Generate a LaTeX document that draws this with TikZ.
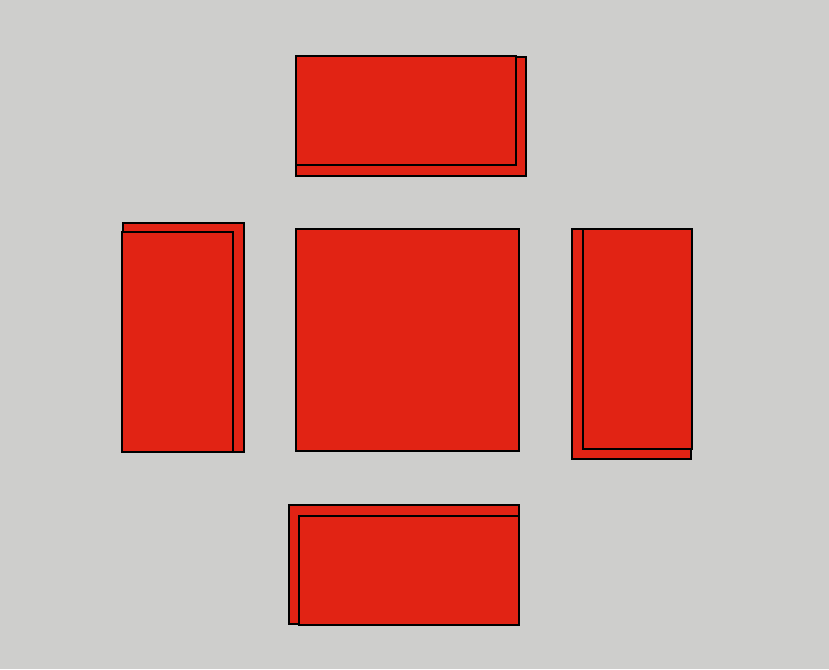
\documentclass[tikz,border=0pt]{standalone}
\definecolor{bg}{RGB}{206,206,204}
\definecolor{cushion}{RGB}{225,35,20}
\begin{document}
\begin{tikzpicture}[x=1pt,y=-1pt,
  piece/.style={fill=cushion,draw=black,line width=1.3pt,line join=miter}]
\fill[bg] (0,0) rectangle (829,669);
\useasboundingbox (0,0) rectangle (829,669);
% top sofa
\draw[piece] (296,57) rectangle (526,176);
\draw[piece] (296,56) rectangle (516,165);
% left sofa
\draw[piece] (123,223) rectangle (244,452);
\draw[piece] (122,232) rectangle (233,452);
% centre table
\draw[piece] (296,229) rectangle (519,451);
% right sofa
\draw[piece] (572,229) rectangle (691,459);
\draw[piece] (583,229) rectangle (692,449);
% bottom sofa
\draw[piece] (289,505) rectangle (519,624);
\draw[piece] (299,516) rectangle (519,625);
\end{tikzpicture}
\end{document}
